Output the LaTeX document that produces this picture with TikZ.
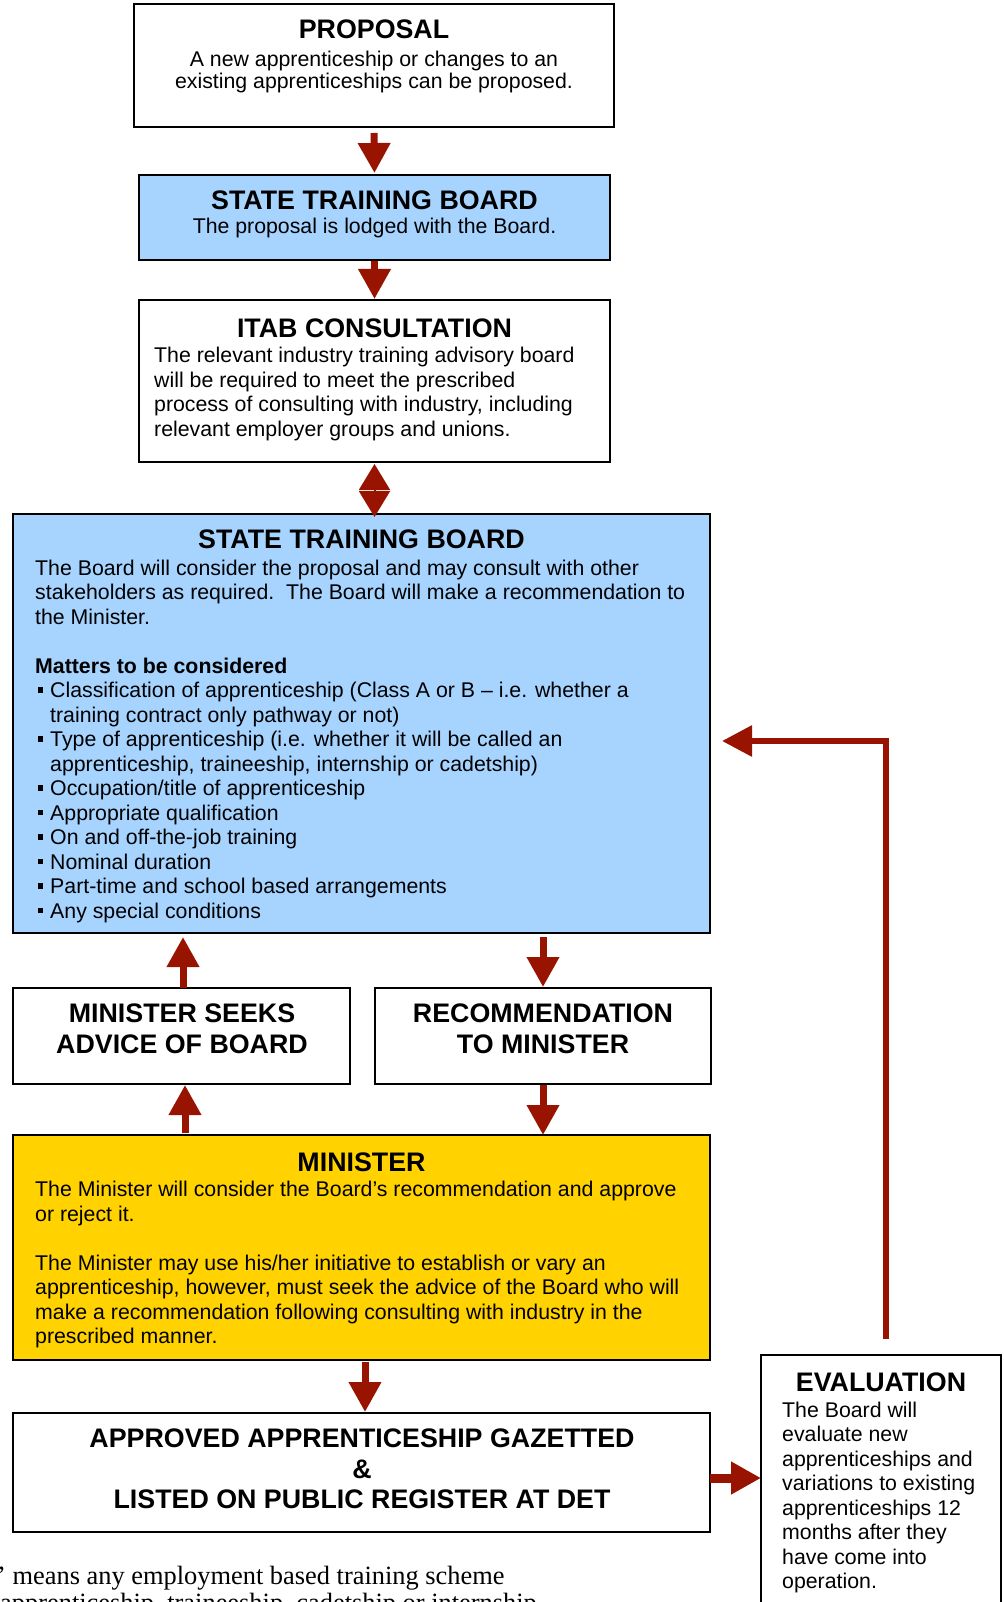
\documentclass[tikz,border=0pt]{standalone}
\usepackage{fontspec}
\setmainfont{Liberation Sans}
\newfontfamily\serifft{Liberation Serif}
\usetikzlibrary{arrows.meta}
\definecolor{arrowred}{RGB}{153,20,0}
\definecolor{boardblue}{RGB}{166,212,255}
\definecolor{ministergold}{RGB}{255,210,0}
\begin{document}
\begin{tikzpicture}[x=1pt,y=-1pt,
  box/.style={draw=black, line width=2pt, inner sep=0pt, outer sep=0pt},
  ttl/.style={font=\fontsize{26.8}{30}\selectfont\bfseries, inner sep=0pt, anchor=base},
  body/.style={font=\fontsize{21.3}{24.5}\selectfont, inner sep=0pt, anchor=base west},
  bodyc/.style={body, anchor=base},
  arr/.style={draw=arrowred, line width=7pt, -{Triangle[width=31pt,length=30pt]}},
  harr/.style={draw=arrowred, line width=9pt, -{Triangle[width=31pt,length=30pt]}},
  dbl/.style={draw=arrowred, line width=2pt, -{Triangle[width=31pt,length=26pt]}},
  fbarr/.style={draw=arrowred, line width=6pt, line join=miter, -{Triangle[width=30pt,length=30pt]}}
]
\useasboundingbox (0,0) rectangle (1003,1602);
\clip (0,0) rectangle (1003,1602);
\fill[white] (0,0) rectangle (1003,1602);

% boxes
\node[box, minimum width=480pt, minimum height=123pt] (prop) at (374,65.5) {};
\node[box, fill=boardblue, minimum width=471pt, minimum height=85pt] (stbA) at (374.5,217.5) {};
\node[box, minimum width=471pt, minimum height=162pt] (itab) at (374.5,381) {};
\node[box, fill=boardblue, minimum width=697pt, minimum height=419pt] (stbB) at (361.5,723.5) {};
\node[box, minimum width=337pt, minimum height=96pt] (msa) at (181.5,1036) {};
\node[box, minimum width=336pt, minimum height=96pt] (rec) at (543,1036) {};
\node[box, fill=ministergold, minimum width=697pt, minimum height=225pt] (mini) at (361.5,1247.5) {};
\node[box, minimum width=697pt, minimum height=119pt] (appr) at (361.5,1472.5) {};
\node[box, minimum width=240pt, minimum height=265pt] (eval) at (881,1487.5) {};

% PROPOSAL
\node[ttl] (propt) at (374,39) {PROPOSAL};
\node[bodyc] (propl1) at (374,67) {A new apprenticeship or changes to an};
\node[bodyc] (propl2) at (374,88.5) {existing apprenticeships can be proposed.};

% STATE TRAINING BOARD (1)
\node[ttl] (stbAt) at (374.5,210) {STATE TRAINING BOARD};
\node[bodyc] (stbAl) at (374.5,234) {The proposal is lodged with the Board.};

% ITAB
\node[ttl] (itabt) at (374.5,337) {ITAB CONSULTATION};
\foreach \t [count=\i from 0] in {{The relevant industry training advisory board},{will be required to meet the prescribed},{process of consulting with industry, including},{relevant employer groups and unions.}}
  \node[body] (itabl\i) at (154,{362.6+24.5*\i}) {\t};

% STATE TRAINING BOARD (2)
\node[ttl] (stbBt) at (361.5,548.5) {STATE TRAINING BOARD};
\foreach \t [count=\i from 0] in {{The Board will consider the proposal and may consult with other},{stakeholders as required.\ \ The Board will make a recommendation to},{the Minister.}}
  \node[body] (stbl\i) at (35,{575.4+24.5*\i}) {\t};
\node[body, font=\fontsize{21.3}{24.5}\selectfont\bfseries] (matt) at (35,673.4) {Matters to be considered};
\foreach \t [count=\i from 5] in {{Classification of apprenticeship (Class A or B – i.e. whether a},{training contract only pathway or not)},{Type of apprenticeship (i.e. whether it will be called an},{apprenticeship, traineeship, internship or cadetship)},{Occupation/title of apprenticeship},{Appropriate qualification},{On and off-the-job training},{Nominal duration},{Part-time and school based arrangements},{Any special conditions}}
  \node[body] (mtl\i) at (50,{575.4+24.5*\i}) {\t};
\foreach \k in {5,7,9,10,11,12,13,14}
  \fill (37.8,{575.4+24.5*\k-10.5}) rectangle (43,{575.4+24.5*\k-5.3});

% MSA and REC
\node[ttl] (msat1) at (182,1022) {MINISTER SEEKS};
\node[ttl] (msat2) at (182,1053) {ADVICE OF BOARD};
\node[ttl] (rect1) at (543,1022) {RECOMMENDATION};
\node[ttl] (rect2) at (543,1053) {TO MINISTER};

% MINISTER
\node[ttl] (minit) at (361.5,1171.5) {MINISTER};
\foreach \t [count=\i from 0] in {{The Minister will consider the Board’s recommendation and approve},{or reject it.},{},{The Minister may use his/her initiative to establish or vary an},{apprenticeship, however, must seek the advice of the Board who will},{make a recommendation following consulting with industry in the},{prescribed manner.}}
  \node[body] (minil\i) at (35,{1196.5+24.5*\i}) {\t};

% APPROVED
\node[ttl] (appr1) at (362,1447.5) {APPROVED APPRENTICESHIP GAZETTED};
\node[ttl] (appr2) at (362,1478.5) {\&};
\node[ttl] (appr3) at (362,1508.5) {LISTED ON PUBLIC REGISTER AT DET};

% EVALUATION
\node[ttl] (evalt) at (881,1391) {EVALUATION};
\foreach \t [count=\i from 0] in {{The Board will},{evaluate new},{apprenticeships and},{variations to existing},{apprenticeships 12},{months after they},{have come into},{operation.}}
  \node[body] (evall\i) at (782,{1417+24.5*\i}) {\t};

% footnote
\node[font=\serifft\fontsize{26.4}{30}\selectfont, inner sep=0pt, anchor=base west] (fn1) at (-3,1584) {’ means any employment based training scheme};
\node[font=\serifft\fontsize{26.4}{30}\selectfont, inner sep=0pt, anchor=base west] (fn2) at (0,1611) {apprenticeship, traineeship, cadetship or internship};

% arrows
\draw[arr, shorten <=6pt, shorten >=2pt] (prop.south) -- (stbA.north);
\draw[arr, shorten <=1pt, shorten >=1pt] (stbA.south) -- (itab.south |- itab.north);
\coordinate (dmidA) at (374.5,490);
\coordinate (dmidB) at (374.5,487);
\draw[dbl] (dmidA) -- ([yshift=-2pt]itab.south);
\draw[dbl] (dmidB) -- ([yshift=-3pt]itab.south |- stbB.north);
\draw[arr, shorten >=4pt] ([xshift=1.5pt]msa.north) -- ([xshift=1.5pt]msa.north |- stbB.south);
\draw[arr, shorten <=2pt, shorten >=1pt] ([xshift=3.5pt]msa.south |- mini.north) -- ([xshift=3.5pt]msa.south);
\draw[arr, shorten <=4pt, shorten >=1pt] (rec.north |- stbB.south) -- (rec.north);
\draw[arr, shorten <=1pt, shorten >=0pt] (rec.south) -- (rec.south |- mini.north);
\draw[arr, shorten <=2pt, shorten >=1pt] ([xshift=3.5pt]mini.south) -- ([xshift=3.5pt]mini.south |- appr.north);
\draw[harr] ([yshift=-5.5pt]appr.east) -- ([yshift=-5.5pt]appr.east -| eval.west);
\coordinate (fbs) at (886,1339);
\coordinate (fbc) at (886,741);
\draw[fbarr, shorten >=12pt] (fbs) -- (fbc) -- (fbc -| stbB.east);
\end{tikzpicture}
\end{document}
